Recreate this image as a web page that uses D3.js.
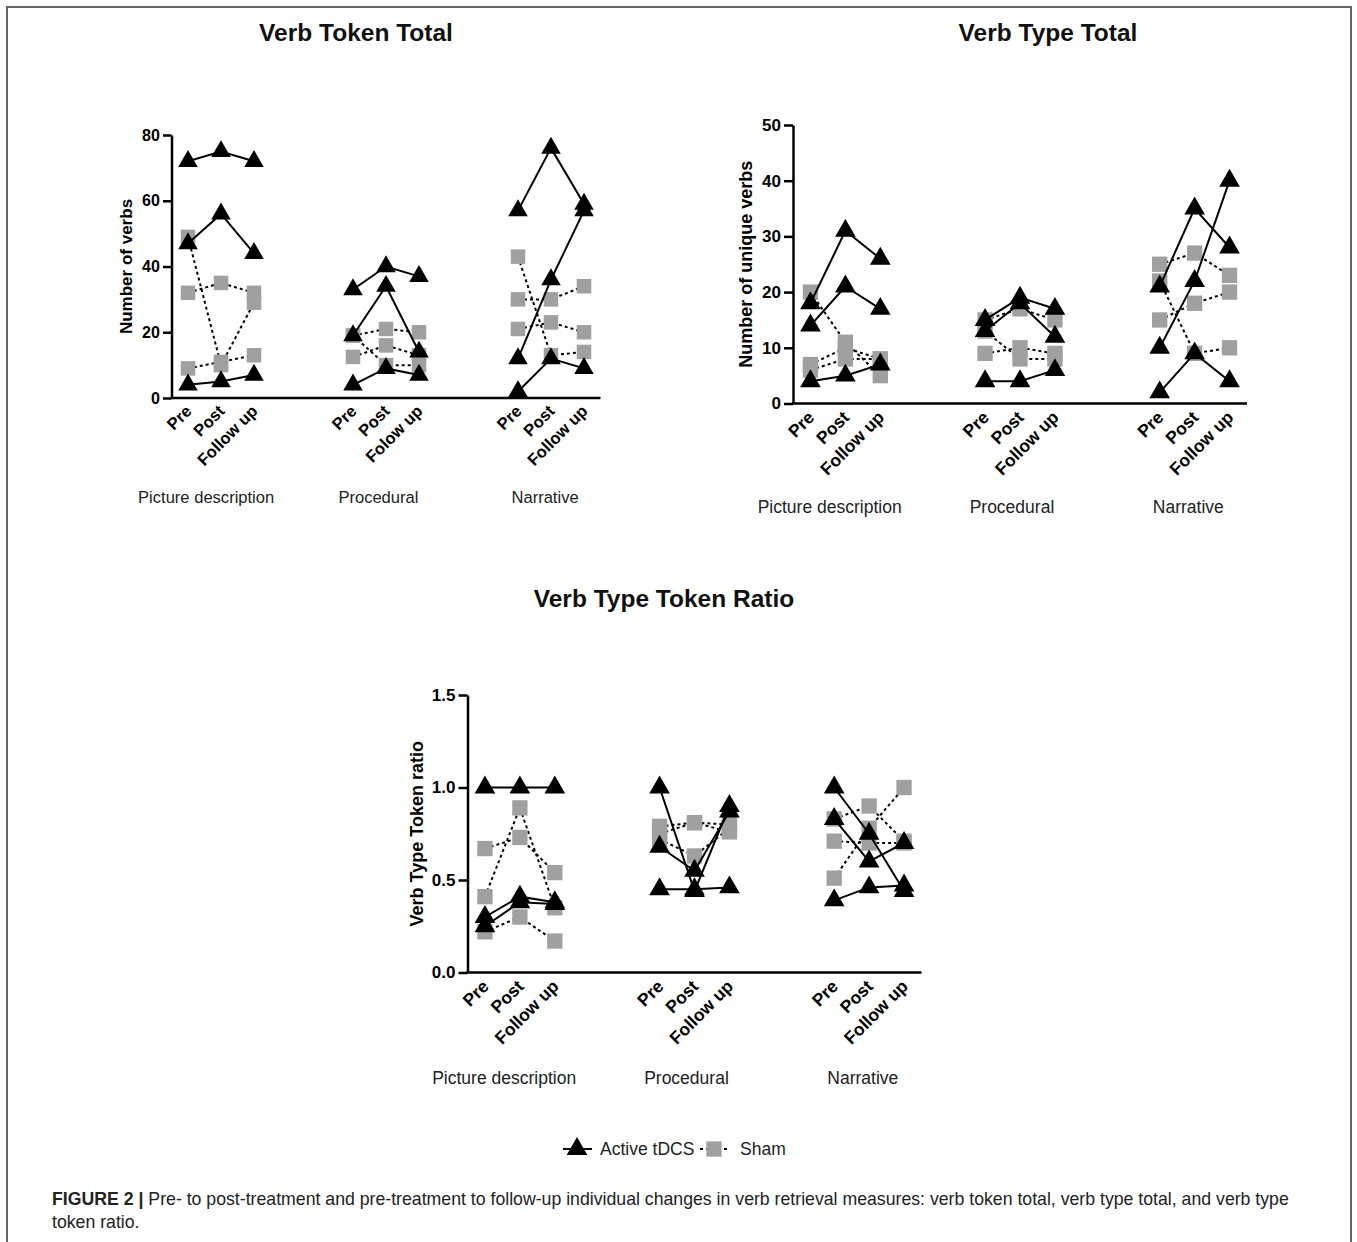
<!DOCTYPE html>
<html>
<head>
<meta charset="utf-8">
<script src="https://cdn.jsdelivr.net/npm/d3@7"></script>
<style>
  body { margin: 0; background: #fff; }
  svg { display: block; font-family: "Liberation Sans", Arial, sans-serif; }
  .axis path, .axis line { stroke: #000; }
  .axis text { fill: #000; font-weight: bold; }
</style>
</head>
<body>
<svg id="chart" width="1357" height="1242"></svg>
<script>
const tasks = ['Picture description', 'Procedural', 'Narrative'];
const conditions = ['Pre', 'Post', 'Follow up'];
// the first panel has a typo in the procedural group, kept as in the figure
const tokenConditionLabels = [conditions, ['Pre', 'Post', 'Folow up'], conditions];

// Verb token total: one array per task, one row per participant (pre, post, follow up)
const tokenActive = [
    [[72, 75, 72], [47, 56, 44], [4, 5, 7]],
    [[33, 40, 37], [19, 34, 14], [4, 9, 7]],
    [[57, 76, 59], [12, 36, 57], [2, 12, 9]]
];
const tokenSham = [
    [[49, 10, 29], [32, 35, 32], [9, 11, 13]],
    [[19, 21, 20], [19, 10, 10], [12.5, 16, 13]],
    [[43, 13, 14], [30, 30, 34], [21, 23, 20]]
];
const tokenTicks = [0, 20, 40, 60, 80];

// Verb type total
const typeActive = [
    [[18, 31, 26], [14, 21, 17], [4, 5, 7]],
    [[15, 19, 17], [13, 18, 12], [4, 4, 6]],
    [[21, 35, 28], [10, 22, 40], [2, 9, 4]]
];
const typeSham = [
    [[20, 11, 5], [7, 10, 8], [6, 8, 8]],
    [[15, 17, 15], [13, 8, 8], [9, 10, 9]],
    [[25, 27, 23], [22, 9, 10], [15, 18, 20]]
];
const typeTicks = [0, 10, 20, 30, 40, 50];

// Verb type token ratio
const ratioActive = [
    [[1.0, 1.0, 1.0], [0.30, 0.41, 0.38], [0.25, 0.38, 0.37]],
    [[1.0, 0.44, 0.90], [0.68, 0.55, 0.87], [0.45, 0.45, 0.46]],
    [[1.0, 0.75, 0.44], [0.83, 0.60, 0.70], [0.39, 0.46, 0.47]]
];
const ratioSham = [
    [[0.67, 0.73, 0.54], [0.41, 0.89, 0.35], [0.22, 0.30, 0.17]],
    [[0.79, 0.81, 0.80], [0.75, 0.81, 0.76], [0.72, 0.63, 0.78]],
    [[0.83, 0.90, 0.71], [0.71, 0.70, 0.70], [0.51, 0.78, 1.0]]
];
const ratioTicks = [0, 0.5, 1.0, 1.5];

const SHAM_FILL = '#a0a0a0';
const GAP = 5;                       // slots per task group (3 used + 2 empty)
const groupLabelAt = [0.55, 5.77, 10.82];

const svg = d3.select('#chart');

// figure frame
svg.append('path')
    .attr('d', 'M7,1250 V7 H1351 V1250')
    .attr('fill', 'none')
    .attr('stroke', '#666')
    .attr('stroke-width', 2);

const triangle = d3.symbol().type(d3.symbolTriangle);
const square = d3.symbol().type(d3.symbolSquare);

drawPanel = (p) => {
    const k = p.k;
    const g = svg.append('g');

    const x = d3.scaleLinear().domain([-0.5, 12.5]).range(p.xRange);
    const y = d3.scaleLinear().domain(p.yDomain).range(p.yRange);
    const pos = (task, c) => x(task * GAP + c);

    g.append('text')
        .attr('x', p.title[0])
        .attr('y', p.title[1])
        .attr('text-anchor', 'middle')
        .attr('font-weight', 'bold')
        .attr('font-size', 24.5)
        .attr('fill', '#111')
        .text(p.titleText);

    // y axis
    const yAxis = g.append('g')
        .attr('class', 'axis')
        .attr('transform', `translate(${p.xRange[0]},0)`)
        .call(d3.axisLeft(y)
            .tickValues(p.ticks)
            .tickFormat(p.format)
            .tickSize(9 * k)
            .tickSizeOuter(0)
            .tickPadding(3));
    yAxis.selectAll('path, line').attr('stroke-width', 2.5);
    yAxis.selectAll('text').attr('font-size', 17 * k);

    g.append('text')
        .attr('transform', `translate(${p.yLabelX},${(p.yRange[0] + p.yRange[1]) / 2}) rotate(-90)`)
        .attr('text-anchor', 'middle')
        .attr('font-weight', 'bold')
        .attr('font-size', 18 * k)
        .text(p.yLabel);

    // x axis line
    g.append('line')
        .attr('x1', p.xRange[0] - 1.25)
        .attr('x2', p.xRange[1])
        .attr('y1', y(0))
        .attr('y2', y(0))
        .attr('stroke', '#000')
        .attr('stroke-width', 2.5);

    tasks.forEach((task, t) => {
        p.condLabels[t].forEach((c, i) => {
            g.append('text')
                .attr('transform', `translate(${pos(t, i) + 5 * k},${y(0) + 15 * k}) rotate(-45)`)
                .attr('text-anchor', 'end')
                .attr('font-weight', 'bold')
                .attr('font-size', 17.5 * k)
                .text(c);
        });
        g.append('text')
            .attr('x', x(groupLabelAt[t]))
            .attr('y', p.groupY)
            .attr('text-anchor', 'middle')
            .attr('font-size', 17.5 * k)
            .attr('fill', '#222')
            .text(task);
    });

    const line = d3.line();

    // sham first, active on top
    [[p.sham, true], [p.active, false]].forEach(([series, isSham]) => {
        const lines = g.append('g');
        const marks = g.append('g');
        series.forEach((rows, t) => {
            rows.forEach(row => {
                const pts = row.map((v, i) => [pos(t, i), y(v)]);
                lines.append('path')
                    .attr('d', line(pts))
                    .attr('fill', 'none')
                    .attr('stroke', '#000')
                    .attr('stroke-width', 2)
                    .attr('stroke-dasharray', isSham ? '3,3' : null);
                pts.forEach(pt => {
                    marks.append('path')
                        .attr('transform', `translate(${pt[0]},${pt[1]})`)
                        .attr('d', isSham ? square.size(235 * k * k)() : triangle.size(185 * k * k)())
                        .attr('fill', isSham ? SHAM_FILL : '#000');
                });
            });
        });
    });
};

drawPanel({
    titleText: 'Verb Token Total', title: [356, 41], k: 0.946,
    xRange: [171.5, 600.5], yRange: [398, 135], yDomain: [0, 80],
    ticks: tokenTicks, format: d3.format('d'),
    yLabel: 'Number of verbs', yLabelX: 132, groupY: 503,
    condLabels: tokenConditionLabels,
    active: tokenActive, sham: tokenSham
});

drawPanel({
    titleText: 'Verb Type Total', title: [1048, 41], k: 1,
    xRange: [793, 1247], yRange: [403.5, 125], yDomain: [0, 50],
    ticks: typeTicks, format: d3.format('d'),
    yLabel: 'Number of unique verbs', yLabelX: 752, groupY: 513,
    condLabels: [conditions, conditions, conditions],
    active: typeActive, sham: typeSham
});

drawPanel({
    titleText: 'Verb Type Token Ratio', title: [664, 607], k: 1,
    xRange: [467.5, 921.5], yRange: [972.5, 695], yDomain: [0, 1.5],
    ticks: ratioTicks, format: d3.format('.1f'),
    yLabel: 'Verb Type Token ratio', yLabelX: 423, groupY: 1084,
    condLabels: [conditions, conditions, conditions],
    active: ratioActive, sham: ratioSham
});

// legend
const legend = svg.append('g').attr('transform', 'translate(0,1149)');
legend.append('line')
    .attr('x1', 563).attr('x2', 592)
    .attr('stroke', '#000').attr('stroke-width', 2);
legend.append('path')
    .attr('transform', 'translate(577,0)')
    .attr('d', triangle.size(185)())
    .attr('fill', '#000');
legend.append('text')
    .attr('x', 600).attr('y', 6)
    .attr('font-size', 17.5).attr('fill', '#222')
    .text('Active tDCS');
legend.append('line')
    .attr('x1', 700).attr('x2', 729)
    .attr('stroke', '#000').attr('stroke-width', 2)
    .attr('stroke-dasharray', '3,3');
legend.append('path')
    .attr('transform', 'translate(714,0)')
    .attr('d', square.size(235)())
    .attr('fill', SHAM_FILL);
legend.append('text')
    .attr('x', 740).attr('y', 6)
    .attr('font-size', 17.5).attr('fill', '#222')
    .text('Sham');

// caption
const caption = svg.append('text')
    .attr('x', 52).attr('y', 1205)
    .attr('font-size', 17.7).attr('fill', '#222');
caption.append('tspan').attr('font-weight', 'bold').text('FIGURE 2 |');
caption.append('tspan').text(' Pre- to post-treatment and pre-treatment to follow-up individual changes in verb retrieval measures: verb token total, verb type total, and verb type');
svg.append('text')
    .attr('x', 52).attr('y', 1228)
    .attr('font-size', 17.7).attr('fill', '#222')
    .text('token ratio.');
</script>
</body>
</html>
